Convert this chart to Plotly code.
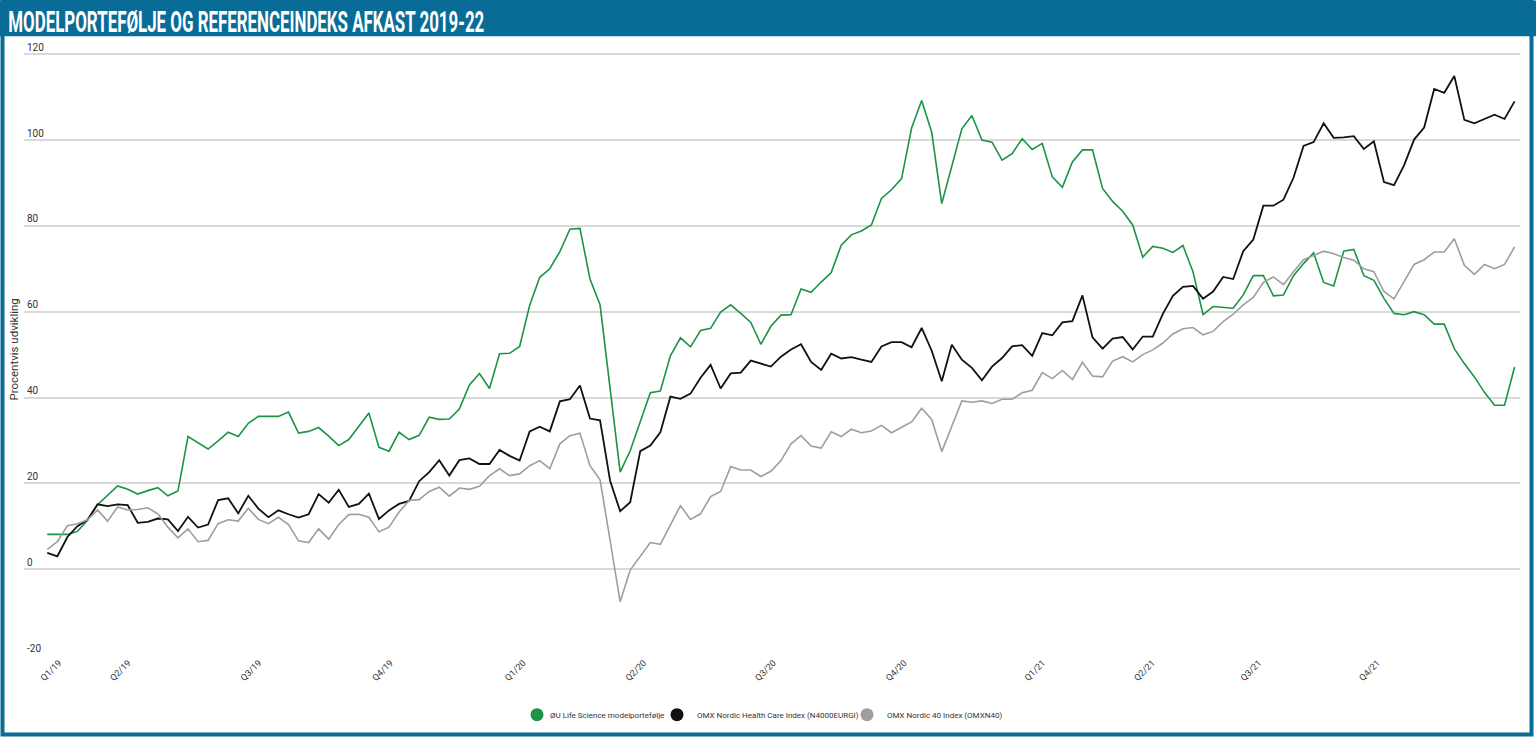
import plotly.graph_objects as go

# ---------------- data ----------------
title_text = "MODELPORTEFØLJE OG REFERENCEINDEKS AFKAST 2019-22"
y_title = "Procentvis udvikling"

series_names = [
    "ØU Life Science modelportefølje",
    "OMX Nordic Health Care Index (N4000EURGI)",
    "OMX Nordic 40 Index (OMXN40)",
]

life_science = [
    8.1, 8.1, 8.1, 8.8, 11.4, 15.0, 17.2, 19.4, 18.6, 17.5,
    18.3, 19.0, 17.1, 18.2, 30.9, 29.5, 28.0, 29.9, 31.9, 30.9,
    34.0, 35.6, 35.6, 35.6, 36.6, 31.7, 32.1, 33.0, 31.0, 28.8,
    30.2, 33.2, 36.4, 28.4, 27.5, 31.9, 30.2, 31.2, 35.4, 34.9,
    35.0, 37.3, 42.9, 45.6, 42.1, 50.2, 50.3, 51.9, 61.5, 68.0,
    70.0, 74.0, 79.2, 79.4, 67.6, 61.6, 42.3, 22.6, 27.6, 34.4,
    41.1, 41.5, 49.7, 53.9, 51.8, 55.6, 56.1, 59.9, 61.6, 59.6,
    57.5, 52.4, 56.6, 59.2, 59.3, 65.3, 64.5, 66.9, 69.1, 75.5,
    77.9, 78.8, 80.2, 86.4, 88.4, 91.0, 102.8, 109.2, 101.8, 85.2,
    93.7, 102.6, 105.7, 100.0, 99.5, 95.3, 96.8, 100.3, 97.8, 99.2,
    91.4, 89.0, 94.9, 97.7, 97.7, 88.7, 85.7, 83.4, 80.2, 72.7,
    75.2, 74.8, 73.8, 75.4, 69.3, 59.3, 61.2, 61.0, 60.8, 63.9,
    68.4, 68.4, 63.7, 63.9, 68.4, 71.2, 73.7, 66.8, 66.0, 74.1,
    74.5, 68.4, 67.3, 63.1, 59.6, 59.3, 60.0, 59.3, 57.1, 57.1,
    51.4, 47.9, 44.8, 41.2, 38.2, 38.2, 47.1,
]

health_care = [
    3.8, 3.0, 7.5, 10.0, 11.5, 15.1, 14.7, 15.1, 14.9, 10.8,
    11.0, 11.8, 11.6, 8.9, 12.2, 9.7, 10.4, 16.1, 16.5, 13.0,
    17.1, 14.1, 12.1, 13.7, 12.8, 12.0, 12.8, 17.5, 15.5, 18.5,
    14.5, 15.2, 17.6, 11.7, 13.7, 15.2, 15.9, 20.5, 22.6, 25.4,
    21.8, 25.4, 25.8, 24.5, 24.5, 27.8, 26.4, 25.3, 32.1, 33.2,
    32.1, 39.1, 39.6, 42.8, 35.1, 34.7, 20.6, 13.5, 15.6, 27.5,
    28.8, 31.9, 40.2, 39.7, 40.9, 44.6, 47.6, 42.1, 45.6, 45.8,
    48.6, 47.9, 47.2, 49.5, 51.2, 52.4, 48.3, 46.4, 50.2, 49.1,
    49.4, 48.8, 48.3, 51.9, 52.9, 52.9, 51.7, 56.2, 50.9, 43.8,
    52.3, 48.8, 46.9, 44.0, 47.2, 49.2, 51.9, 52.2, 49.7, 55.0,
    54.5, 57.5, 57.8, 63.8, 54.0, 51.4, 53.7, 54.1, 51.2, 54.2,
    54.2, 59.5, 63.7, 65.8, 66.0, 63.0, 64.7, 68.1, 67.6, 74.1,
    76.8, 84.7, 84.7, 86.1, 91.2, 98.6, 99.5, 103.9, 100.5, 100.6,
    100.9, 97.9, 99.7, 90.2, 89.5, 94.1, 100.1, 102.9, 111.9, 111.0,
    114.9, 104.7, 103.9, 104.9, 105.9, 104.9, 109.0,
]

nordic_40 = [
    4.6, 6.4, 10.1, 10.6, 11.5, 13.8, 11.2, 14.5, 13.8, 13.9,
    14.3, 12.9, 9.8, 7.3, 9.4, 6.4, 6.7, 10.6, 11.5, 11.2,
    14.2, 11.6, 10.6, 12.1, 10.4, 6.6, 6.2, 9.4, 7.0, 10.4,
    12.7, 12.8, 12.1, 8.7, 9.8, 13.3, 16.0, 16.2, 18.1, 19.1,
    17.0, 18.9, 18.6, 19.3, 21.8, 23.4, 21.8, 22.2, 24.1, 25.3,
    23.4, 29.2, 31.1, 31.7, 24.1, 20.8, 6.7, -7.6, -0.2, 2.9,
    6.2, 5.8, 10.4, 14.8, 11.6, 12.9, 16.9, 18.1, 23.9, 23.1,
    23.1, 21.6, 22.8, 25.3, 29.2, 31.1, 28.7, 28.2, 32.0, 30.9,
    32.6, 31.8, 32.2, 33.5, 31.8, 33.0, 34.3, 37.5, 34.9, 27.4,
    33.4, 39.2, 38.9, 39.2, 38.6, 39.6, 39.6, 41.1, 41.7, 45.8,
    44.4, 46.3, 44.2, 48.2, 45.0, 44.8, 48.5, 49.5, 48.3, 50.0,
    51.1, 52.7, 54.8, 56.0, 56.3, 54.6, 55.4, 57.7, 59.4, 61.6,
    63.3, 66.8, 68.1, 66.3, 69.3, 72.1, 73.1, 74.1, 73.5, 72.6,
    72.0, 70.0, 69.3, 64.7, 63.0, 67.1, 71.0, 72.1, 73.9, 73.9,
    77.0, 70.8, 68.7, 71.0, 70.0, 71.0, 75.1,
]

# observation index (one per weekly observation)
obs = list(range(len(life_science)))

quarter_labels = ["Q1/19", "Q2/19", "Q3/19", "Q4/19", "Q1/20", "Q2/20",
                  "Q3/20", "Q4/20", "Q1/21", "Q2/21", "Q3/21", "Q4/21"]
quarter_pos = [1.15, 8.05, 21.05, 34.15, 47.35, 59.35, 72.25, 85.25, 99.05, 109.95, 120.55, 132.35]

y_ticks = [-20, 0, 20, 40, 60, 80, 100, 120]
y_tick_text = ["-20", "0", "20", "40", "60", "80", "100", "120"]

# ---------------- styling ----------------
W, H = 1536, 741
Y_LO, Y_HI = -20, 124          # axis range (gridlines only at y_ticks)
PX_PER_UNIT = (658 - 54) / 140
MB = H - 658
MT = 54 - (Y_HI - 120) * PX_PER_UNIT
ML, MR = 24, 16
PW, PH = W - ML - MR, H - MT - MB
BLUE = "#086c96"
colors = ["#1b9444", "#111111", "#9e9e9e"]
widths = [1.6, 1.8, 1.6]
FONT = "Roboto, 'Liberation Sans', Arial, sans-serif"
legend_ids = ["legend", "legend2", "legend3"]
legend_circle_px = [537, 677, 867]
LEG_OFF = 20


def px_x(p):
    return (p - ML) / PW


def px_y(p):
    return (H - MB - p) / PH


fig = go.Figure()
for name, vals, c, w in zip(series_names, [life_science, health_care, nordic_40], colors, widths):
    fig.add_trace(go.Scatter(x=obs, y=vals, mode="lines", name=name,
                             line=dict(color=c, width=w), showlegend=False,
                             hovertemplate="%{y:.1f}<extra>" + name + "</extra>"))
for name, c, lg in zip(series_names, colors, legend_ids):
    fig.add_trace(go.Scatter(x=[None], y=[None], mode="markers", name=name,
                             marker=dict(color=c, size=13, symbol="circle"),
                             showlegend=True, legend=lg))

x_lo = (ML - 47.3) / 10.05
x_hi = (W - MR - 47.3) / 10.05

legend_layout = {}
for lg, cx in zip(legend_ids, legend_circle_px):
    legend_layout[lg] = dict(orientation="h", x=px_x(cx - LEG_OFF), xanchor="left",
                             y=px_y(718), yanchor="middle",
                             font=dict(size=8, color="#333333"),
                             itemwidth=30, bgcolor="rgba(0,0,0,0)", borderwidth=0)

fig.update_layout(
    width=W, height=H,
    margin=dict(l=ML, r=MR, t=MT, b=MB, pad=0),
    paper_bgcolor="white", plot_bgcolor="white",
    font=dict(family=FONT, color="#333333", size=10),
    xaxis=dict(range=[x_lo, x_hi], tickmode="array", tickvals=quarter_pos,
               ticktext=quarter_labels, tickangle=-45, showgrid=False,
               zeroline=False, showline=False, ticks="",
               tickfont=dict(size=9, color="#333333")),
    yaxis=dict(range=[Y_LO, Y_HI], tickmode="array", tickvals=y_ticks,
               ticktext=y_tick_text,
               showgrid=True, gridcolor="#d9d9d9", gridwidth=1.5,
               zeroline=False, showline=False, ticks="",
               ticklabelposition="inside top",
               tickfont=dict(size=10, color="#333333")),
    showlegend=True,
    shapes=[
        dict(type="rect", xref="paper", yref="paper",
             x0=px_x(0), x1=px_x(W), y0=px_y(36), y1=px_y(0),
             fillcolor=BLUE, line=dict(width=0), layer="below"),
        dict(type="rect", xref="paper", yref="paper",
             x0=px_x(2.5), x1=px_x(1531.5), y0=px_y(738), y1=px_y(1),
             fillcolor="rgba(0,0,0,0)", line=dict(color=BLUE, width=4), layer="above"),
    ],
    annotations=[
        dict(text="<b>" + title_text + "</b>", xref="paper", yref="paper",
             x=px_x(6), y=px_y(21), xanchor="left", yanchor="middle",
             showarrow=False,
             font=dict(family="Roboto, 'DejaVu Sans', sans-serif",
                       size=30, color="white")),
        dict(text=y_title, xref="paper", yref="paper", x=px_x(14), y=px_y(351),
             xanchor="center", yanchor="middle", textangle=-90, showarrow=False,
             font=dict(size=11.5, color="#333333")),
    ],
    **legend_layout,
)

post = """
document.body.style.margin='0';
document.body.style.overflow='hidden';
var gd = document.getElementById('{plot_id}');
function tidy() {
  var grp = gd.querySelector('.annotation[data-index="0"]');
  var t = grp ? grp.querySelector('text') : null;
  if (t) {
    var bb = t.getBBox();
    if (bb.width > 0) {
      var s = 476 / bb.width;
      t.setAttribute('transform', 'translate(' + bb.x + ',0) scale(' + s + ',1) translate(' + (-bb.x) + ',0)');
    }
  }
  gd.querySelectorAll('text.legendtext').forEach(function (e) {
    e.setAttribute('x', '33');
  });
}
tidy();
gd.on('plotly_afterplot', tidy);
setTimeout(tidy, 100);
setTimeout(tidy, 400);
"""

fig.write_html("out.html", config={"displayModeBar": False}, post_script=post)
